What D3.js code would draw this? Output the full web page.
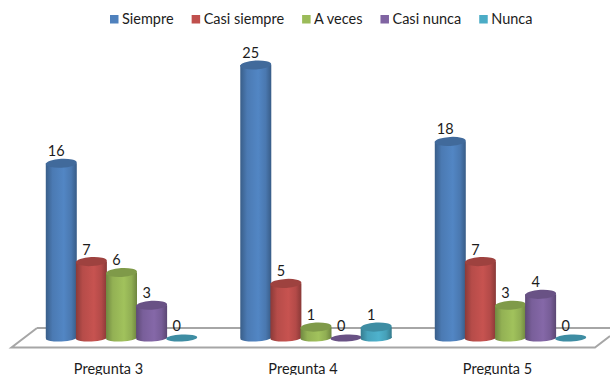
<!DOCTYPE html>
<html>
<head>
<meta charset="utf-8">
<title>Preguntas</title>
<script src="https://cdnjs.cloudflare.com/ajax/libs/d3/7.8.5/d3.min.js"></script>
<style>
  html, body { margin: 0; padding: 0; background: #fff; overflow: hidden; }
  text { font-family: Lato, "Open Sans", sans-serif; font-size: 14.5px; fill: #1c1c1c; }
</style>
</head>
<body>
<svg id="chart" width="610" height="375"></svg>
<script>
var categories = ["Pregunta 3", "Pregunta 4", "Pregunta 5"];
var seriesNames = ["Siempre", "Casi siempre", "A veces", "Casi nunca", "Nunca"];
var siempre = [16, 25, 18];
var casiSiempre = [7, 5, 7];
var aVeces = [6, 1, 3];
var casiNunca = [3, 0, 4];
var nunca = [0, 1, 0];
var seriesValues = [siempre, casiSiempre, aVeces, casiNunca, nunca];
var seriesColors = ["#4f81bd", "#c0504d", "#9bbb59", "#8064a2", "#4bacc6"];

var svg = d3.select("#chart");
var defs = svg.append("defs");

var x0 = d3.scaleBand().domain(categories).range([24.25, 607.75]).paddingInner(0.226).paddingOuter(0.113);
var x1 = d3.scaleBand().domain(seriesNames).range([0, x0.bandwidth()]);
var y = d3.scaleLinear().domain([0, 25]).range([338, 65]);

var rx = 15.5, ry = 4.5, tilt = -3;

// horizontal shading that makes the bars look like cylinders
seriesColors.forEach(function (c, i) {
  var grad = defs.append("linearGradient").attr("id", "cyl" + i);
  grad.append("stop").attr("offset", "0%").attr("stop-color", d3.color(c).darker(0.9));
  grad.append("stop").attr("offset", "22%").attr("stop-color", d3.color(c).darker(0.15));
  grad.append("stop").attr("offset", "58%").attr("stop-color", d3.color(c).brighter(0.1));
  grad.append("stop").attr("offset", "82%").attr("stop-color", d3.color(c).darker(0.2));
  grad.append("stop").attr("offset", "100%").attr("stop-color", d3.color(c).darker(0.95));
});

// floor
svg.append("path")
  .attr("d", "M37,328H610M610,336L595,347.5H11.5L37,328")
  .attr("fill", "none")
  .attr("stroke", "#a6a6a6")
  .attr("stroke-width", 2);

// legend
var legend = svg.append("g");
var legendX = 110;
seriesNames.forEach(function (name, i) {
  legend.append("rect")
    .attr("x", legendX).attr("y", 15)
    .attr("width", 8.5).attr("height", 8.5)
    .attr("fill", seriesColors[i]);
  var t = legend.append("text")
    .attr("x", legendX + 12).attr("y", 24)
    .text(name);
  legendX += 12 + t.node().getComputedTextLength() + 18;
});

// bars
var groups = svg.selectAll(".group")
  .data(categories)
  .enter().append("g")
  .attr("class", "group")
  .attr("transform", function (d) { return "translate(" + x0(d) + ",0)"; });

groups.each(function (cat, ci) {
  var g = d3.select(this);
  seriesNames.forEach(function (name, si) {
    var v = seriesValues[si][ci];
    var cx = x1(name) + x1.bandwidth() / 2;
    var base = y(0), top = y(v);
    var cap = d3.color(seriesColors[si]).darker(0.55);
    var ell = function (cy, r) {
      return g.append("ellipse")
        .attr("cx", cx).attr("cy", cy)
        .attr("rx", rx).attr("ry", r)
        .attr("transform", "rotate(" + tilt + " " + cx + " " + cy + ")");
    };
    if (v > 0) {
      ell(base, ry - 1).attr("fill", "url(#cyl" + si + ")");
      g.append("rect")
        .attr("x", cx - rx).attr("y", top)
        .attr("width", rx * 2).attr("height", base - top)
        .attr("fill", "url(#cyl" + si + ")");
      ell(top, ry).attr("fill", cap);
    } else {
      ell(base, 3.5).attr("fill", cap);
    }
    g.append("text")
      .attr("x", cx - 5)
      .attr("y", top - 7)
      .attr("text-anchor", "middle")
      .text(v);
  });
});

// category labels sit left of the bars because of the perspective
var axis = svg.append("g")
  .attr("transform", "translate(-13,358)")
  .call(d3.axisBottom(x0).tickSize(0).tickPadding(6));
axis.select(".domain").remove();
axis.selectAll("text").attr("font-family", null).attr("font-size", null).style("font-size", "14.5px");
</script>
</body>
</html>
